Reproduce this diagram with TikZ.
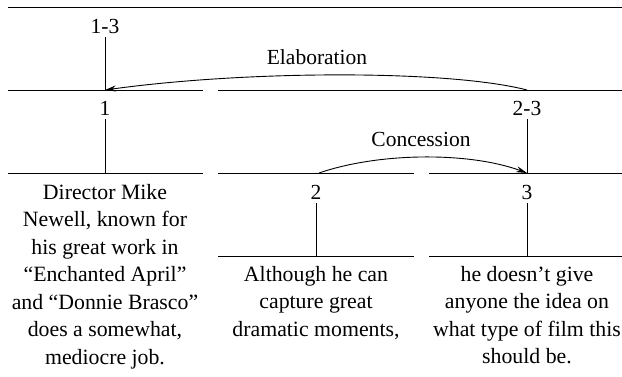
\documentclass[tikz,border=0pt]{standalone}
\usepackage{fontspec}
\setmainfont{Liberation Serif}
\usetikzlibrary{arrows.meta, positioning}

\begin{document}
\begin{tikzpicture}[
    x=1pt, y=-1pt,
    rule/.style={line width=0.9pt, black},
    span/.style={line width=0.9pt, black},
    lbl/.style={font=\fontsize{21.5}{26}\selectfont, inner sep=4pt},
    rlbl/.style={font=\fontsize{21.5}{26}\selectfont, inner sep=0pt},
    edu/.style={align=center, anchor=north, inner sep=0pt,
                font=\fontsize{21.8}{27.5}\selectfont},
    rel/.style={-{Stealth[length=11pt, width=6pt]}, line width=0.9pt}
]
\useasboundingbox (0,0) rectangle (622,376);

% Horizontal rules
\draw[rule] (8,7)    -- (622,7);
\draw[rule] (8,90)   -- (203,90);
\draw[rule] (218,90) -- (622,90);
\draw[rule] (8,173)   -- (203,173);
\draw[rule] (218,173) -- (414,173);
\draw[rule] (429,173) -- (622,173);
\draw[rule] (218,256) -- (414,256);
\draw[rule] (429,256) -- (622,256);

% Span labels
\node[lbl] (n13) at (105,26)  {1-3};
\node[lbl] (n1)  at (105,108) {1};
\node[lbl] (n23) at (527,108) {2-3};
\node[lbl] (n2)  at (316,192) {2};
\node[lbl] (n3)  at (527,192) {3};

% Span ends
\coordinate (s1)  at (105,90);
\coordinate (e1)  at (105,173);
\coordinate (s23) at (527,90);
\coordinate (e23) at (527,173);
\coordinate (s2)  at (319,173);
\coordinate (e2)  at (316,256);
\coordinate (e3)  at (527,256);

% Text segments
\node[edu] (t1) at (105,184) {Director Mike\\Newell, known for\\his great work in\\“Enchanted April”\\and “Donnie Brasco”\\does a somewhat,\\mediocre job.};
\node[edu] (t2) at (316,266) {Although he can\\capture great\\dramatic moments,};
\node[edu] (t3) at (527,266) {he doesn’t give\\anyone the idea on\\what type of film this\\should be.};

% Verticals
\draw[span] (n13) -- (s1);
\draw[span] (n1)  -- (e1);
\draw[span] (n23) -- (e23);
\draw[span] (n2)  -- (e2);
\draw[span] (n3)  -- (e3);

% Relations
\node[rlbl] (elab) at (317,57)  {Elaboration};
\node[rlbl] (conc) at (421,139) {Concession};
\draw[rel] (s23) .. controls (450,70) and (250,70) .. (s1);
\draw[rel] (s2)  .. controls (380,152) and (470,152) .. (e23);

\end{tikzpicture}
\end{document}
